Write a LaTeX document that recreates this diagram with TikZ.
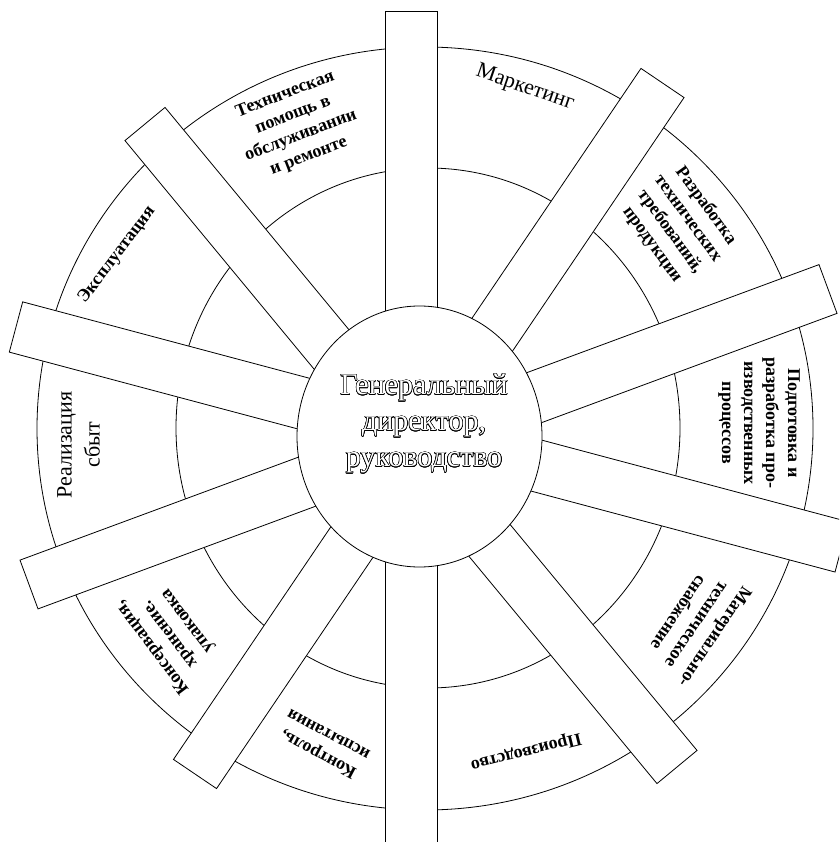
\documentclass[tikz,border=0pt]{standalone}
\usepackage{fontspec}
\setmainfont{Liberation Serif}
\usepackage{contour}
\contourlength{0.6pt}
\usetikzlibrary{calc, shapes.geometric}

\begin{document}
\begin{tikzpicture}[
    x = 1pt, y = -1pt,
line width = 0.8pt,
ring/.style = {draw, fill=white},
bar/.style = {draw, fill=white},
hub/.style = {ellipse, draw, fill=white, inner sep=0pt,
              minimum width=245pt, minimum height=261pt},
lbl/.style = {align=center, inner sep=0pt,
              font=\fontsize{18}{22}\selectfont\bfseries},
big/.style = {align=center, inner sep=0pt,
              font=\fontsize{22}{28}\selectfont},
                    ]
\useasboundingbox (0,0) rectangle (839,842);
\clip (0,0) rectangle (839,842);
% rings
\draw[ring] (425,428.5) ellipse [x radius=388pt, y radius=381.5pt];
\draw (428,428) ellipse [x radius=252pt, y radius=260pt];
% bar ends
\coordinate (N)  at (411,11);    \coordinate (S)  at (411,880);
\coordinate (NE) at (662.5,83);  \coordinate (SW) at (195,774);
\coordinate (E1) at (828,289);   \coordinate (W1) at (29,584.5);
\coordinate (W2) at (16,327);    \coordinate (E2) at (841.7,546.9);
\coordinate (NW) at (145,124);   \coordinate (SE) at (677,767);
%
\foreach \a/\b in {N/S, NE/SW, E1/W1, W2/E2, NW/SE}
    \draw[bar] ($(\a)!26pt!90:(\b)$) -- ($(\a)!26pt!-90:(\b)$)
            -- ($(\b)!26pt!90:(\a)$) -- ($(\b)!26pt!-90:(\a)$) -- cycle;
% centre
\node[hub] (dir) at (419.5,436.5) {};
\node[align=center, text=white, font=\fontsize{30}{36}\selectfont]
    (dirtxt) at (424,424)
    {\contour{black}{Генеральный}\\ \contour{black}{директор,}\\
     \contour{black}{руководство}};
% sectors
\node[big, rotate=-19]  (mark)   at (525,88)    {Маркетинг};
\node[lbl, rotate=-54]  (razr)   at (679,225)
    {Разработка\\ технических\\ требований,\\ продукции};
\node[lbl, rotate=-90]  (podg)   at (759,423)
    {Подготовка и\\ разработка про-\\ изводственных\\ процессов};
\node[lbl, rotate=-124] (mat)    at (697,625)
    {Материально-\\ техническое\\ снабжение};
\node[lbl, rotate=-166] (proizv) at (526,751.5) {Производство};
\node[lbl, rotate=152]  (kontr)  at (323,745)   {Контроль,\\ испытания};
\node[lbl, rotate=127]  (kons)   at (170,634)
    {Консервация,\\ хранение.\\ упаковка};
\node[big, rotate=90]   (real)   at (78.5,445)  {Реализация\\ сбыт};
\node[lbl, rotate=53]   (expl)   at (117,255)   {Эксплуатация};
\node[lbl, rotate=21]   (tech)   at (297,125.5)
    {Техническая\\ помощь в\\ обслуживании\\ и ремонте};
\end{tikzpicture}
\end{document}
